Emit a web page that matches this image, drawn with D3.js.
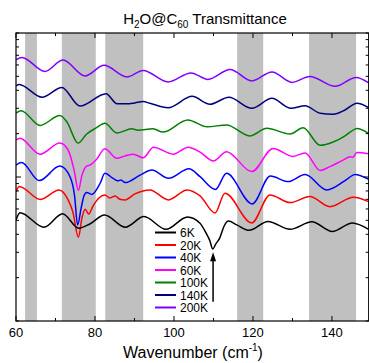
<!DOCTYPE html>
<html><head><meta charset="utf-8">
<script src="https://cdn.jsdelivr.net/npm/d3@7"></script>
<style>body{margin:0;background:#fff} svg{display:block} text{font-family:"Liberation Sans",Arial,sans-serif}</style>
</head><body><svg id="c" width="369" height="363"></svg>
<script>
// ---- data ----
const bandStart = [62.3, 71.6, 82.6, 116.0, 134.2];
const bandEnd   = [65.3, 80.2, 92.2, 122.6, 146.1];
const xTickValues = [60, 70, 80, 90, 100, 110, 120, 130, 140];
const xTickLabels = [60, 80, 100, 120, 140];
const seriesLabels = ["6K", "20K", "40K", "60K", "100K", "140K", "200K"];
const arrowX = 109.9, arrowFrom = 1.36, arrowTo = 3.0;

const s6K = [[60.0,5.03],[61.0,5.65],[67.1,4.48],[71.8,5.56],[75.9,4.41],[78.7,4.72],[82.4,5.45],[87.7,4.48],[92.4,5.31],[98.0,4.33],[103.4,5.28],[106.6,4.78],[108.1,4.09],[109.1,3.60],[109.8,3.16],[110.6,3.43],[111.6,3.78],[112.7,4.57],[113.8,4.94],[115.9,4.65],[119.0,4.26],[123.8,4.91],[129.4,4.33],[134.9,4.88],[140.1,4.18],[145.2,4.80],[149.3,4.33]];
const s20K = [[60.0,7.91],[60.8,8.60],[66.2,6.98],[70.9,8.13],[73.2,6.93],[74.4,5.72],[75.8,3.81],[76.7,5.20],[77.5,5.96],[78.4,5.54],[79.5,6.29],[81.0,7.15],[82.5,7.51],[83.8,7.15],[85.1,7.39],[86.3,7.00],[87.6,6.93],[90.1,7.63],[93.9,8.13],[98.6,6.93],[103.3,8.13],[106.6,7.39],[110.4,5.62],[112.9,7.72],[119.7,4.80],[124.3,7.51],[129.4,6.64],[134.4,7.31],[139.5,6.22],[145.4,7.24],[149.3,6.75]];
const s40K = [[60.0,12.1],[61.4,12.6],[65.9,9.44],[71.1,11.9],[73.7,10.0],[74.8,7.51],[75.6,4.65],[76.5,6.10],[77.2,7.39],[77.9,7.81],[79.2,7.57],[81.3,9.05],[82.5,10.6],[84.6,9.77],[85.8,9.40],[86.6,9.55],[87.6,9.14],[91.4,10.3],[94.4,11.2],[98.6,9.80],[103.8,11.4],[106.6,10.05],[110.5,8.20],[113.3,10.6],[119.8,6.50],[124.4,10.16],[128.9,9.29],[133.2,10.4],[138.7,8.13],[142.9,9.29],[144.1,9.80],[145.8,10.4],[149.3,9.62]];
const s60K = [[60.0,18.1],[61.0,18.6],[66.1,14.4],[71.1,17.2],[73.2,15.4],[74.7,11.2],[75.8,8.06],[76.7,10.3],[77.9,11.9],[78.7,12.1],[80.4,13.3],[82.5,15.7],[85.5,13.5],[87.6,14.0],[89.7,14.4],[92.2,13.6],[94.8,16.1],[99.8,14.4],[103.6,16.1],[106.6,14.9],[110.0,12.9],[113.3,15.0],[119.7,10.9],[125.1,15.8],[130.1,13.9],[133.2,14.7],[137.0,11.1],[139.5,11.8],[142.8,13.1],[144.6,13.8],[145.3,13.7],[146.3,14.8],[149.3,14.5]];
const s100K = [[60.0,27.8],[61.3,28.9],[66.1,22.8],[71.1,26.7],[72.9,24.1],[75.7,17.2],[77.9,19.9],[80.3,21.9],[82.5,23.6],[85.6,20.2],[89.3,21.6],[90.9,21.1],[94.7,21.6],[97.2,20.5],[103.5,24.9],[108.4,22.3],[113.3,23.0],[119.2,19.3],[123.5,21.8],[129.4,19.9],[132.7,22.0],[137.0,16.6],[140.3,17.5],[143.3,19.3],[144.6,20.5],[146.3,21.7],[149.3,20.1]];
const s140K = [[60.0,42.9],[60.8,43.9],[66.6,35.8],[71.6,41.9],[76.2,31.1],[82.8,37.9],[85.6,32.2],[88.1,32.2],[90.1,32.7],[92.2,33.4],[93.9,32.5],[98.5,30.3],[104.6,36.3],[109.1,32.0],[113.9,35.8],[119.7,30.0],[124.8,35.2],[129.6,30.0],[133.2,31.3],[137.0,27.7],[140.3,27.3],[143.3,29.2],[146.3,32.5],[149.3,30.3]];
const s200K = [[60.0,65.0],[61.5,67.7],[67.3,54.1],[71.9,65.0],[77.5,50.3],[82.3,59.6],[88.1,49.5],[92.2,55.0],[98.5,45.7],[104.3,52.8],[108.6,47.6],[114.2,55.8],[119.7,46.5],[124.8,53.7],[129.9,45.4],[134.4,49.9],[140.8,42.6],[146.1,49.1],[149.3,45.0]];

// ---- drawing ----
const series = [s6K, s20K, s40K, s60K, s100K, s140K, s200K];
const colors = ["#000000", "#ff0000", "#0000ff", "#ff00ff", "#008000", "#000080", "#8000ff"];
const L = 16, R = 368.7, T = 33, B = 321;
const x = d3.scaleLinear().domain([60, 149.3]).range([L, R]);
const y = d3.scaleLog().domain([1, 100]).range([B, T]);
const svg = d3.select("#c");

svg.append("defs").append("clipPath").attr("id", "clip")
  .append("rect").attr("x", L).attr("y", T).attr("width", R - L).attr("height", B - T);

const g = svg.append("g");
g.selectAll("rect.band").data(bandStart).join("rect").attr("class", "band")
  .attr("x", (d) => x(d)).attr("y", T)
  .attr("width", (d, i) => x(bandEnd[i]) - x(d)).attr("height", B - T)
  .attr("fill", "#c0c0c0");

const line = d3.line().x(d => x(d[0])).y(d => y(d[1])).curve(d3.curveMonotoneX);
const cg = svg.append("g").attr("clip-path", "url(#clip)");
series.slice().reverse().forEach((s, i) => {
  const ci = series.length - 1 - i;
  cg.append("path").attr("d", line(s)).attr("fill", "none")
    .attr("stroke", colors[ci]).attr("stroke-width", 1.5).attr("stroke-linejoin", "round");
});

// frame
svg.append("rect").attr("x", L).attr("y", T).attr("width", R - L).attr("height", B - T)
  .attr("fill", "none").attr("stroke", "#000").attr("stroke-width", 1.2);

// x ticks (inside, top and bottom)
xTickValues.forEach(v => {
  const major = xTickLabels.includes(v);
  const len = major ? 5 : 3;
  svg.append("line").attr("x1", x(v)).attr("x2", x(v)).attr("y1", B).attr("y2", B - len).attr("stroke", "#000");
  svg.append("line").attr("x1", x(v)).attr("x2", x(v)).attr("y1", T).attr("y2", T + len).attr("stroke", "#000");
});
svg.selectAll("text.xl").data(xTickLabels).join("text").attr("class", "xl")
  .attr("x", d => x(d)).attr("y", 337).attr("text-anchor", "middle")
  .attr("font-size", 13).text(d => d);

// y ticks (log, no labels)
y.ticks().forEach(v => {
  const major = (v === 10);
  const len = major ? 5 : 3;
  svg.append("line").attr("x1", L).attr("x2", L + len).attr("y1", y(v)).attr("y2", y(v)).attr("stroke", "#000");
  svg.append("line").attr("x1", R).attr("x2", R - len).attr("y1", y(v)).attr("y2", y(v)).attr("stroke", "#000");
});

// arrow
svg.append("line").attr("x1", x(arrowX)).attr("x2", x(arrowX))
  .attr("y1", y(arrowFrom)).attr("y2", y(arrowTo) + 6).attr("stroke", "#000").attr("stroke-width", 1.5);
const ax = x(arrowX), ay = y(arrowTo);
svg.append("path").attr("d", `M${ax},${ay} L${ax - 3},${ay + 9} L${ax + 3},${ay + 9} Z`).attr("fill", "#000");

// legend
const lg = svg.append("g");
seriesLabels.forEach((lab, i) => {
  const yy = 232.5 + i * 12.5;
  lg.append("line").attr("x1", 155).attr("x2", 176).attr("y1", yy).attr("y2", yy)
    .attr("stroke", colors[i]).attr("stroke-width", 2);
  lg.append("text").attr("x", 180).attr("y", yy + 4.5).attr("font-size", 12).text(lab);
});

// title
const t = svg.append("text").attr("x", 205).attr("y", 24).attr("text-anchor", "middle").attr("font-size", 15);
t.append("tspan").text("H");
t.append("tspan").attr("font-size", 10).attr("dy", 4).text("2");
t.append("tspan").attr("dy", -4).text("O@C");
t.append("tspan").attr("font-size", 10).attr("dy", 4).text("60");
t.append("tspan").attr("dy", -4).text(" Transmittance");

// x title
const xt = svg.append("text").attr("x", 193).attr("y", 358).attr("text-anchor", "middle").attr("font-size", 16);
xt.append("tspan").text("Wavenumber (cm");
xt.append("tspan").attr("font-size", 10).attr("dy", -7).text("-1");
xt.append("tspan").attr("dy", 7).text(")");
</script></body></html>
